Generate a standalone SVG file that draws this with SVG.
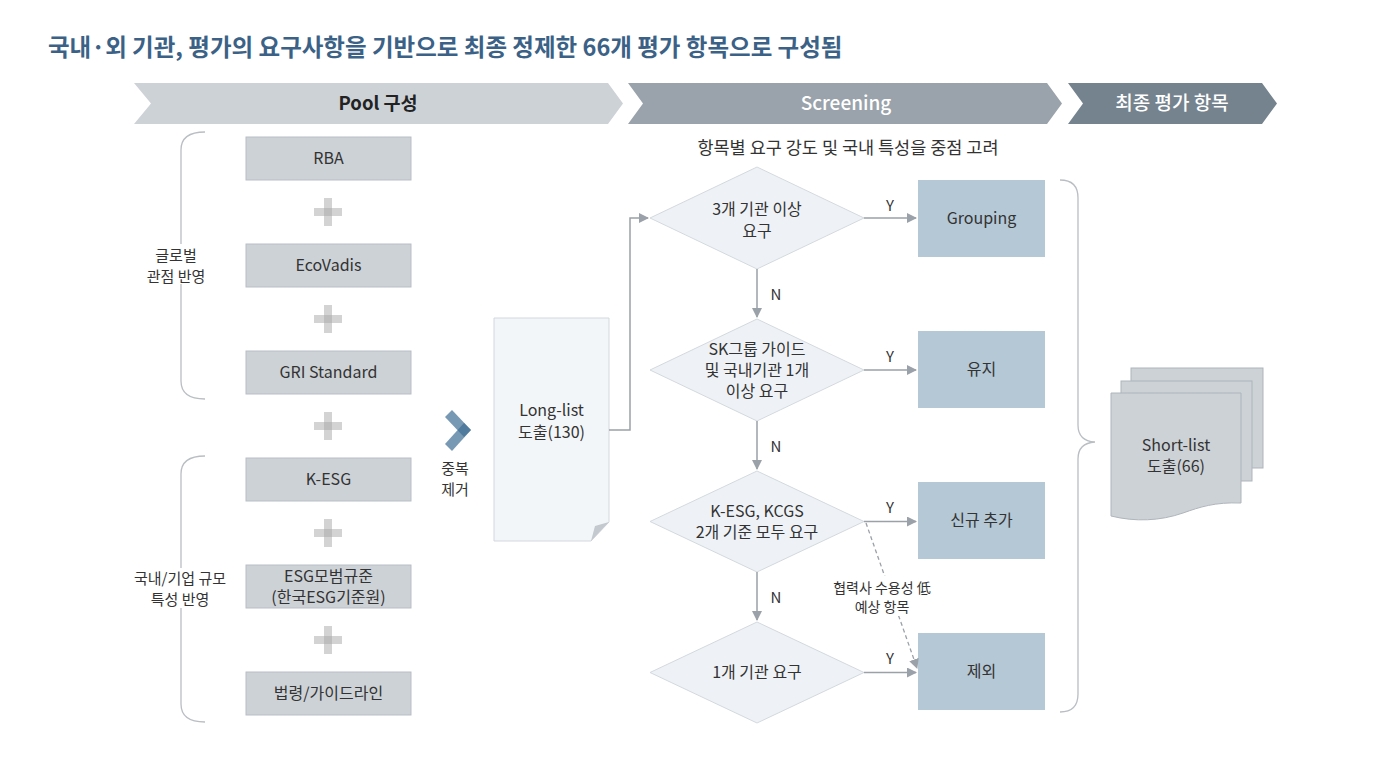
<svg xmlns="http://www.w3.org/2000/svg" width="1400" height="772" viewBox="0 0 1400 772">
<defs>
<style>
text{font-family:"Noto Sans CJK KR","Noto Sans",sans-serif;}
.t{font-size:16px;fill:#333;text-anchor:middle;}
.s{font-size:15px;fill:#333;text-anchor:middle;}
.box{fill:#cdd2d7;stroke:#b8bec5;stroke-width:1;}
.rbox{fill:#b5c8d6;}
.dia{fill:#eef2f6;stroke:#d3d9df;stroke-width:1;}
.con{fill:none;stroke:#9aa1a8;stroke-width:1.5;}
.br{fill:none;stroke:#b9bec3;stroke-width:1.3;}
.plus{fill:#a8a8a8;opacity:0.5;}
.bn{font-size:19px;font-weight:500;fill:#fff;text-anchor:middle;}
</style>
<marker id="ar" viewBox="0 0 10 10" refX="9" refY="5" markerWidth="10" markerHeight="10" markerUnits="userSpaceOnUse" orient="auto">
<path d="M0,0 L10,5 L0,10 Z" fill="#9aa1a8"/>
</marker>
<g id="plusSign">
<rect class="plus" x="-14" y="-4" width="28" height="8"/>
<rect class="plus" x="-4" y="-14" width="8" height="28"/>
</g>
</defs>
<rect width="1400" height="772" fill="#fff"/>

<text x="48" y="56" style="font-size:23.5px;font-weight:700;fill:#3b6286">국내·외 기관, 평가의 요구사항을 기반으로 최종 정제한 66개 평가 항목으로 구성됨</text>

<g id="banner-pool">
<path d="M134,83 H608 L623,103.5 L608,124 H134 L151,103.5 Z" fill="#cdd2d7"/>
<text x="378" y="110" style="font-size:18.5px;font-weight:600;fill:#222;text-anchor:middle">Pool 구성</text>
</g>
<g id="banner-screening">
<path d="M628,83 H1047 L1062,103.5 L1047,124 H628 L643,103.5 Z" fill="#9aa3ab"/>
<text class="bn" x="846" y="110">Screening</text>
</g>
<g id="banner-final">
<path d="M1068,83 H1262 L1277,103.5 L1262,124 H1068 L1083,103.5 Z" fill="#75838e"/>
<text class="bn" x="1172" y="110">최종 평가 항목</text>
</g>

<g id="brace-global">
<path class="br" d="M205,132 Q181,132 181,150 V381 Q181,399 205,399"/>
<rect x="143" y="244" width="66" height="40" fill="#fff"/>
<text class="s" x="176" y="261">글로벌</text>
<text class="s" x="176" y="282">관점 반영</text>
</g>
<g id="brace-domestic">
<path class="br" d="M205,456 Q181,456 181,474 V704 Q181,722 205,722"/>
<rect x="130" y="568" width="100" height="40" fill="#fff"/>
<text class="s" x="180" y="584">국내/기업 규모</text>
<text class="s" x="180" y="605">특성 반영</text>
</g>

<g id="node-rba"><rect class="box" x="246" y="137" width="165" height="43"/><text class="t" x="328.5" y="164">RBA</text></g>
<g id="node-ecovadis"><rect class="box" x="246" y="244" width="165" height="43"/><text class="t" x="328.5" y="271">EcoVadis</text></g>
<g id="node-gri"><rect class="box" x="246" y="351" width="165" height="43"/><text class="t" x="328.5" y="378">GRI Standard</text></g>
<g id="node-kesg"><rect class="box" x="246" y="458" width="165" height="43"/><text class="t" x="328.5" y="485">K-ESG</text></g>
<g id="node-esgmodel"><rect class="box" x="246" y="565" width="165" height="43"/><text class="t" x="328.5" y="582">ESG모범규준</text><text class="t" x="328.5" y="603">(한국ESG기준원)</text></g>
<g id="node-law"><rect class="box" x="246" y="672" width="165" height="43"/><text class="t" x="328.5" y="699">법령/가이드라인</text></g>

<g id="plus-signs">
<use href="#plusSign" x="328" y="212"/>
<use href="#plusSign" x="328" y="319"/>
<use href="#plusSign" x="328" y="426"/>
<use href="#plusSign" x="328" y="533"/>
<use href="#plusSign" x="328" y="640"/>
</g>

<g id="dedup">
<polygon points="445,417 452,410 471,430 464,437" fill="#3e6d93" opacity="0.7"/>
<polygon points="464,423 471,430 452,451 445,444" fill="#3e6d93" opacity="0.7"/>
<text class="s" x="455" y="474">중복</text>
<text class="s" x="455" y="495">제거</text>
</g>

<g id="node-longlist">
<path d="M494,318 H609 V522 L591,541 H494 Z" fill="#f3f6f9" stroke="#d3d8dd" stroke-width="1"/>
<path d="M609,522 L591,541 L595,526 Z" fill="#c3c9cf"/>
<text class="t" x="551.5" y="416">Long-list</text>
<text class="t" x="551.5" y="438">도출(130)</text>
</g>

<text x="848" y="154" style="font-size:17.5px;fill:#333;text-anchor:middle">항목별 요구 강도 및 국내 특성을 중점 고려</text>

<g id="node-d1"><polygon class="dia" points="757,167 864,218 757,269 650,218"/><text class="t" x="757" y="215">3개 기관 이상</text><text class="t" x="757" y="237">요구</text></g>
<g id="node-d2"><polygon class="dia" points="757,319 864,370 757,421 650,370"/><text class="t" x="757" y="355">SK그룹 가이드</text><text class="t" x="757" y="376">및 국내기관 1개</text><text class="t" x="757" y="397">이상 요구</text></g>
<g id="node-d3"><polygon class="dia" points="757,471 864,521.5 757,572 650,521.5"/><text class="t" x="757" y="517">K-ESG, KCGS</text><text class="t" x="757" y="538">2개 기준 모두 요구</text></g>
<g id="node-d4"><polygon class="dia" points="757,622 864,672.5 757,723 650,672.5"/><text class="t" x="757" y="678">1개 기관 요구</text></g>

<g id="node-grouping"><rect class="rbox" x="918" y="180" width="127" height="77"/><text class="t" x="981.5" y="224">Grouping</text></g>
<g id="node-keep"><rect class="rbox" x="918" y="331" width="127" height="77"/><text class="t" x="981.5" y="375">유지</text></g>
<g id="node-new"><rect class="rbox" x="918" y="482" width="127" height="77"/><text class="t" x="981.5" y="526">신규 추가</text></g>
<g id="node-exclude"><rect class="rbox" x="918" y="633" width="127" height="77"/><text class="t" x="981.5" y="677">제외</text></g>

<g id="connectors">
<path class="con" d="M609,430 H630 V218 H648" marker-end="url(#ar)"/>
<path class="con" d="M864,218 H916" marker-end="url(#ar)"/>
<path class="con" d="M864,370 H916" marker-end="url(#ar)"/>
<path class="con" d="M864,521.5 H916" marker-end="url(#ar)"/>
<path class="con" d="M864,672.5 H916" marker-end="url(#ar)"/>
<path class="con" d="M757,269 V317" marker-end="url(#ar)"/>
<path class="con" d="M757,421 V469" marker-end="url(#ar)"/>
<path class="con" d="M757,572 V620" marker-end="url(#ar)"/>
<path d="M866,523 L917,668" fill="none" stroke="#9aa1a8" stroke-width="1.3" stroke-dasharray="4,3" marker-end="url(#ar)"/>
<text class="s" x="890" y="211">Y</text>
<text class="s" x="890" y="362">Y</text>
<text class="s" x="890" y="513">Y</text>
<text class="s" x="890" y="664">Y</text>
<text class="s" x="776" y="300">N</text>
<text class="s" x="776" y="452">N</text>
<text class="s" x="776" y="603">N</text>
<rect x="832" y="576" width="102" height="40" fill="#fff"/>
<text class="s" x="882" y="593" style="font-size:14px">협력사 수용성 低</text>
<text class="s" x="882" y="612" style="font-size:14px">예상 항목</text>
</g>

<g id="brace-right">
<path class="br" d="M1060,180 Q1078,180 1078,198 V425 Q1078,441 1095,442 Q1078,443 1078,459 V694 Q1078,712 1060,712"/>
</g>

<g id="node-shortlist">
<rect x="1131" y="368" width="132" height="100" fill="#cdd2d7" stroke="#aeb5bc" stroke-width="1"/>
<rect x="1121" y="381" width="131" height="100" fill="#cdd2d7" stroke="#aeb5bc" stroke-width="1"/>
<path d="M1111,393 H1241 V503 C1215,502 1200,507 1183,513 C1160,521 1135,522 1111,516 Z" fill="#cdd2d7" stroke="#aeb5bc" stroke-width="1"/>
<text class="t" x="1176" y="451">Short-list</text>
<text class="t" x="1176" y="472">도출(66)</text>
</g>
</svg>
